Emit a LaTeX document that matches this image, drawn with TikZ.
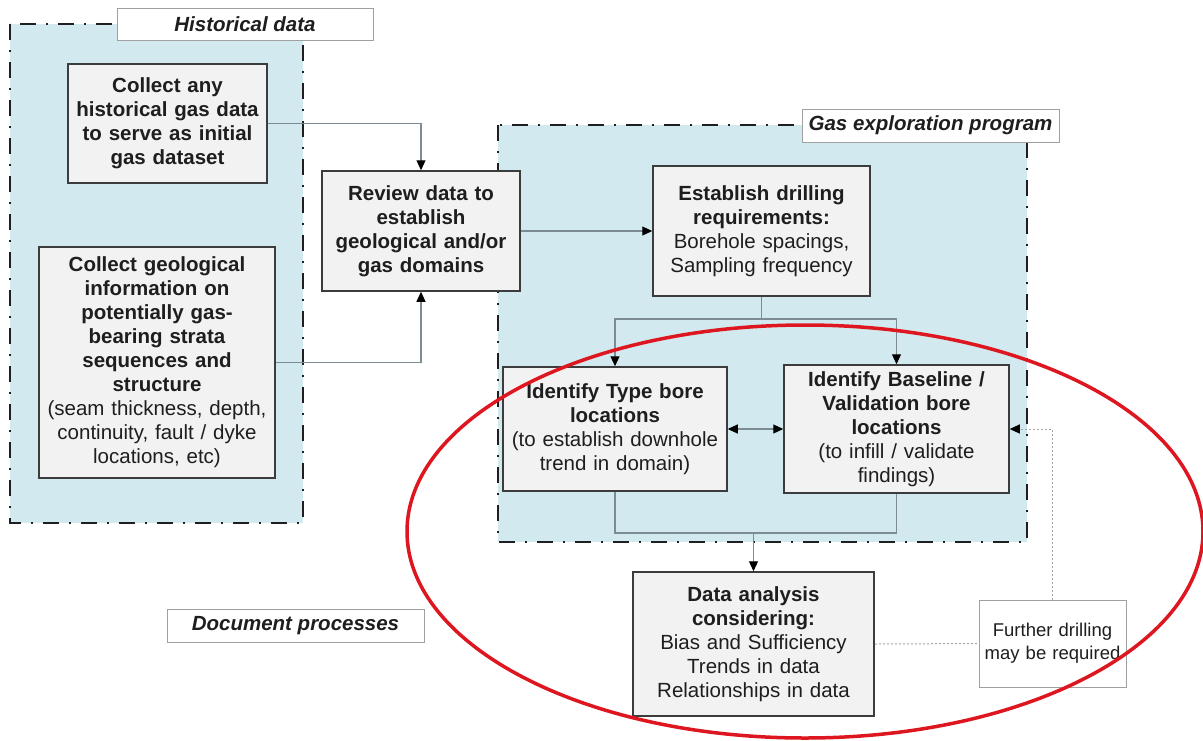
\documentclass[tikz,border=0pt]{standalone}
\usepackage{fontspec}
\setmainfont{Liberation Sans}
\usetikzlibrary{arrows.meta}
\definecolor{regionfill}{RGB}{210,233,239}
\definecolor{boxfill}{RGB}{242,242,242}
\definecolor{boxline}{RGB}{60,60,60}
\definecolor{connc}{RGB}{125,140,146}
\definecolor{textc}{RGB}{30,30,30}
\definecolor{labline}{RGB}{160,160,160}
\definecolor{dotc}{RGB}{165,165,165}
\definecolor{redc}{RGB}{222,22,32}
\tikzset{
  region/.style={fill=regionfill, draw=black!88, line width=2.6pt,
    dash pattern=on 16pt off 10pt on 2pt off 10pt},
  procbox/.style={draw=boxline, fill=boxfill, line width=1.5pt, inner sep=0pt,
    align=center, text=textc, font=\fontsize{20.5}{24}\selectfont},
  labbox/.style={draw=labline, fill=white, line width=1pt, inner sep=0pt,
    align=center, text=textc, font=\fontsize{20.5}{24}\selectfont\bfseries\itshape},
  notebox/.style={draw=labline, fill=white, line width=1pt, inner sep=0pt,
    align=center, text=textc, font=\fontsize{18.5}{23}\selectfont},
  conn/.style={draw=connc, line width=1.1pt},
  arr/.style={conn, -{Triangle[length=10pt,width=9pt,fill=black,color=black]}},
  darr/.style={conn, {Triangle[length=10pt,width=9pt,fill=black,color=black]}-{Triangle[length=10pt,width=9pt,fill=black,color=black]}},
  dotline/.style={draw=dotc, line width=1pt, dash pattern=on 2pt off 2pt},
  dotarr/.style={dotline, -{Triangle[length=10pt,width=9pt,fill=black,color=black]}},
}
\begin{document}
\begin{tikzpicture}[x=1pt,y=-1pt]
\useasboundingbox (0,0) rectangle (1203,740);
\fill[white] (0,0) rectangle (1203,740);

% regions
\draw[region] (10,24) rectangle (303,523);
\draw[region] (498,125) rectangle (1027,542);

% region labels
\node[labbox, minimum width=256pt, minimum height=32pt] (histlab) at (245,24) {Historical data};
\node[labbox, minimum width=257pt, minimum height=33pt] (gaslab) at (930.5,125.5) {Gas exploration program};
\node[labbox, minimum width=257pt, minimum height=33pt] (doclab) at (295.5,625.5) {Document processes};

% process boxes
\node[procbox, minimum width=199pt, minimum height=119pt, text width=195pt] (cany) at (167.5,123.5)
  {\bfseries Collect any\\historical gas data\\to serve as initial\\gas dataset};
\node[procbox, minimum width=236pt, minimum height=231pt, text width=232pt] (cgeo) at (157,362.5)
  {{\bfseries Collect geological\\information on\\potentially gas-\\bearing strata\\sequences and\\structure}\\(seam thickness, depth,\\continuity, fault / dyke\\locations, etc)};
\node[procbox, minimum width=198pt, minimum height=120pt, text width=194pt] (review) at (421,231)
  {\bfseries Review data to\\establish\\geological and/or\\gas domains};
\node[procbox, minimum width=217pt, minimum height=130pt, text width=213pt] (est) at (761.5,231)
  {{\bfseries Establish drilling\\requirements:}\\Borehole spacings,\\Sampling frequency};
\node[procbox, minimum width=224pt, minimum height=124pt, text width=220pt] (type) at (615,429)
  {{\bfseries Identify Type bore\\locations}\\(to establish downhole\\trend in domain)};
\node[procbox, minimum width=225pt, minimum height=128pt, text width=221pt] (base) at (896.5,429)
  {{\bfseries Identify Baseline /\\Validation bore\\locations}\\(to infill / validate\\findings)};
\node[procbox, minimum width=241pt, minimum height=144pt, text width=237pt] (data) at (753.5,644)
  {{\bfseries Data analysis\\considering:}\\Bias and Sufficiency\\Trends in data\\Relationships in data};
\node[notebox, minimum width=147pt, minimum height=87pt, text width=145pt] (further) at (1052.5,643.5)
  {Further drilling\\may be required};

% junction points
\coordinate (j1) at (761.5,319);
\coordinate (j2) at (753.5,533);

% connectors
\draw[arr] (cany.east) -| (review.north);
\draw[arr] (cgeo.east) -| (review.south);
\draw[arr] (review.east) -- (est.west);
\draw[conn] (est.south) -- (j1);
\draw[arr] (j1) -| (type.north);
\draw[arr] (j1) -| (base.north);
\draw[darr] (type.east) -- (base.west);
\draw[conn] (type.south) |- (j2) -| (base.south);
\draw[arr] (j2) -- (data.north);
\draw[dotline] (data.east) -- (further.west);
\draw[dotarr] (further.north) |- (base.east);

% red ellipse annotation
\draw[draw=redc, line width=3.5pt] (805,531.5) ellipse [x radius=398pt, y radius=206.5pt];
\end{tikzpicture}
\end{document}
